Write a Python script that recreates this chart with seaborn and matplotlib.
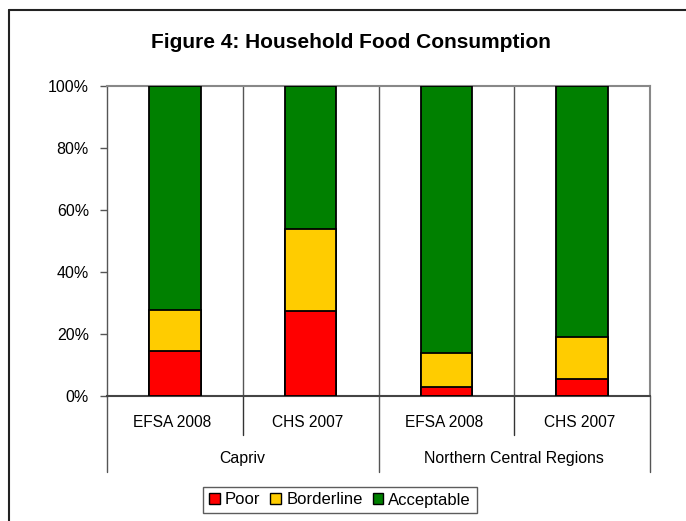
import matplotlib
matplotlib.use("Agg")
import matplotlib.pyplot as plt
import seaborn as sns
import pandas as pd
import numpy as np
from matplotlib.patches import Patch
from matplotlib.lines import Line2D
import matplotlib.transforms as mtransforms

sources = ["EFSA 2008", "CHS 2007", "EFSA 2008", "CHS 2007"]
regions = ["Capriv", "Northern Central Regions"]
poor = [14.5, 27.4, 3.0, 5.4]
borderline = [13.2, 26.5, 11.0, 13.6]
acceptable = [72.3, 46.1, 86.0, 81.0]
series_names = ["Poor", "Borderline", "Acceptable"]
colors = ["#FF0000", "#FFCC00", "#008000"]
yticks = [0, 20, 40, 60, 80, 100]
ytick_labels = ["0%", "20%", "40%", "60%", "80%", "100%"]

sns.set_theme(style="white")
plt.rcParams['font.family'] = ['Liberation Sans', 'DejaVu Sans']
plt.rcParams['text.color'] = 'black'
plt.rcParams['ytick.color'] = 'black'

keys = [f"{r}|{s}" for r, s in zip(["Capriv", "Capriv", "NCR", "NCR"], sources)]
df = pd.DataFrame({"key": keys, "Poor": poor, "Borderline": borderline, "Acceptable": acceptable})
df["c1"] = df["Poor"]
df["c2"] = df["Poor"] + df["Borderline"]
df["c3"] = df["c2"] + df["Acceptable"]

fig = plt.figure(figsize=(6.86, 5.21), dpi=100)
ax = fig.add_axes([107/686, 1-396/521, (650-107)/686, (396-86)/521])

for col, c in [("c3", colors[2]), ("c2", colors[1]), ("c1", colors[0])]:
    sns.barplot(data=df, x="key", y=col, order=keys, color=c, width=0.38,
                edgecolor="black", linewidth=1.3, saturation=1, ax=ax, zorder=3)

ax.set_xlim(-0.5, 3.5)
ax.set_ylim(0, 100)
ax.set_xlabel("")
ax.set_ylabel("")
ax.set_xticks([])
ax.set_yticks(yticks)
ax.set_yticklabels(ytick_labels, fontsize=11.5, color="black")
ax.tick_params(axis="y", which="both", left=True, length=5, width=1, color="#555555", pad=8)

for s in ["top", "right"]:
    ax.spines[s].set_color("#888888")
    ax.spines[s].set_linewidth(1.5)
ax.spines["left"].set_color("#555555")
ax.spines["left"].set_linewidth(1)
ax.spines["bottom"].set_color("#444444")
ax.spines["bottom"].set_linewidth(1.5)

for xv in [0.5, 1.5, 2.5]:
    ax.axvline(xv, color="#555555", lw=1, zorder=1)

trans = mtransforms.blended_transform_factory(ax.transData, ax.transAxes)
for i, s in enumerate(sources):
    ax.text(i - 0.02, -0.084, s, transform=trans, ha="center", va="center", fontsize=11.2)
ax.text(0.5, -0.203, regions[0], transform=trans, ha="center", va="center", fontsize=11.4)
ax.text(2.5, -0.203, regions[1], transform=trans, ha="center", va="center", fontsize=11.4)
for xv in [0.5, 2.5]:
    ax.plot([xv, xv], [0, -0.126], transform=trans, color="#333333", lw=1, clip_on=False)
for xv in [-0.5, 1.5, 3.5]:
    ax.plot([xv, xv], [0, -0.245], transform=trans, color="#555555", lw=1, clip_on=False)

fig.text(351/686, 1-43/521, "Figure 4: Household Food Consumption", ha="center", va="center",
         fontsize=15, fontweight="bold", color="black")

handles = [Patch(facecolor=c, edgecolor="black", linewidth=1) for c in colors]
leg = fig.legend(handles, series_names, loc="center", bbox_to_anchor=(340/686, 1-500/521),
                 ncol=3, fontsize=12, frameon=True, fancybox=False, handlelength=0.65,
                 handleheight=0.65, handletextpad=0.3, columnspacing=0.6, borderpad=0.35)
leg.get_frame().set_edgecolor("#333333")
leg.get_frame().set_linewidth(1)

fig.add_artist(Line2D([9/686, 1], [1-10/521, 1-10/521], color="#222222", lw=1.5, transform=fig.transFigure))
fig.add_artist(Line2D([9/686, 9/686], [0, 1-10/521], color="#222222", lw=1.5, transform=fig.transFigure))

fig.savefig("out.png", dpi=100)
